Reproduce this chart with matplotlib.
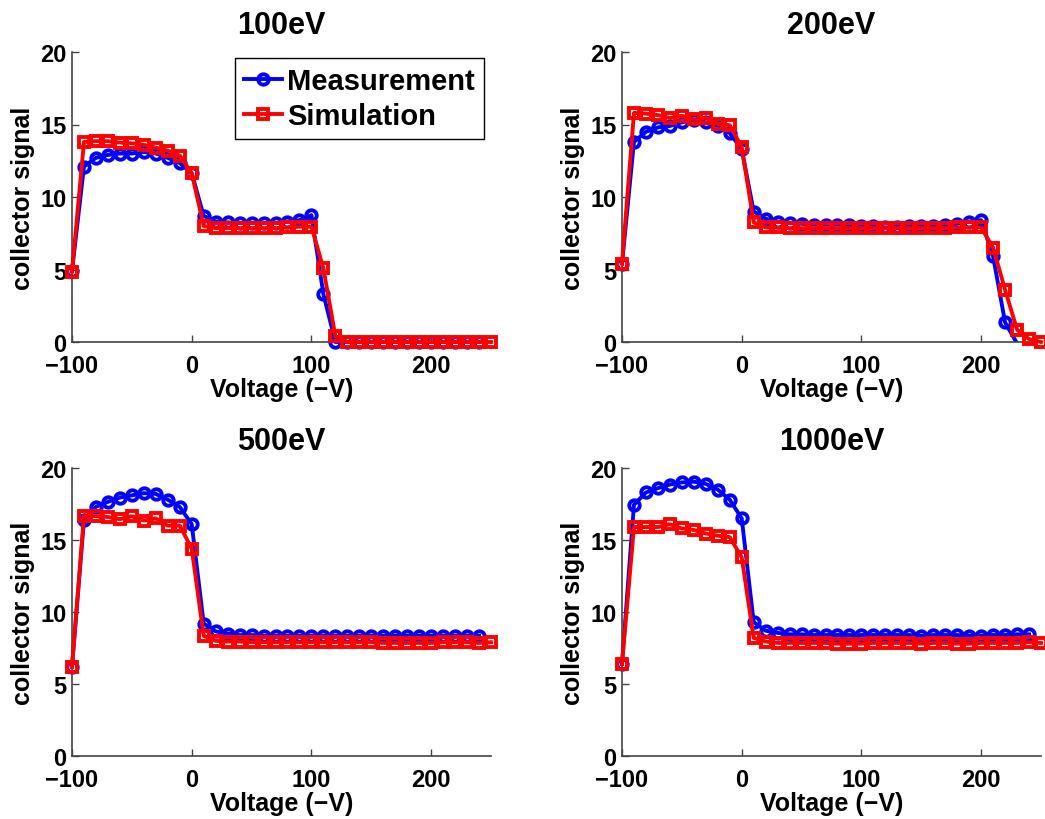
import numpy as np
import matplotlib
matplotlib.use("Agg")
import matplotlib.pyplot as plt
from matplotlib.lines import Line2D

plt.rcParams['font.family'] = ['Liberation Sans', 'DejaVu Sans']
plt.rcParams['font.weight'] = 'bold'

# === Data ===
volt_meas = np.arange(-100, 250, 10)   # -100 .. 240
volt_sim = np.arange(-100, 260, 10)    # -100 .. 250

titles = ["100eV", "200eV", "500eV", "1000eV"]

meas_100 = [4.9, 12.1, 12.7, 12.9, 13.0, 13.0, 13.1, 13.0, 12.7, 12.35, 11.65,
            8.7, 8.3, 8.25, 8.2, 8.2, 8.2, 8.2, 8.3, 8.4, 8.75, 3.3, 0.0,
            0.0, 0.0, 0.0, 0.0, 0.0, 0.0, 0.0, 0.0, 0.0, 0.0, 0.0, 0.0]
sim_100 = [4.85, 13.8, 13.85, 13.85, 13.75, 13.7, 13.6, 13.4, 13.2, 12.85, 11.65,
           8.0, 7.85, 7.85, 7.85, 7.85, 7.85, 7.85, 7.9, 7.95, 7.95, 5.07, 0.4,
           0.0, 0.0, 0.0, 0.0, 0.0, 0.0, 0.0, 0.0, 0.0, 0.0, 0.0, 0.0, 0.0]

meas_200 = [5.4, 13.8, 14.5, 14.8, 14.9, 15.15, 15.3, 15.15, 14.9, 14.4, 13.3,
            9.0, 8.5, 8.3, 8.2, 8.15, 8.1, 8.1, 8.1, 8.05, 8.0, 8.0, 7.9, 7.95,
            8.0, 8.0, 8.0, 8.05, 8.15, 8.3, 8.4, 5.9, 1.35, -0.1, -0.6]
sim_200 = [5.4, 15.8, 15.75, 15.65, 15.45, 15.6, 15.35, 15.45, 15.05, 14.95, 13.45,
           8.25, 7.9, 7.9, 7.85, 7.85, 7.85, 7.85, 7.85, 7.85, 7.85, 7.85, 7.85, 7.85,
           7.85, 7.85, 7.85, 7.85, 7.9, 7.9, 7.9, 6.5, 3.6, 0.85, 0.2, 0.0]

meas_500 = [6.2, 16.4, 17.3, 17.65, 17.95, 18.1, 18.25, 18.2, 17.8, 17.3, 16.1,
            9.2, 8.65, 8.5, 8.4, 8.4, 8.35, 8.35, 8.35, 8.35, 8.35, 8.35, 8.35, 8.35,
            8.35, 8.35, 8.35, 8.35, 8.35, 8.35, 8.35, 8.35, 8.35, 8.35, 8.35]
sim_500 = [6.2, 16.7, 16.65, 16.6, 16.45, 16.65, 16.35, 16.5, 16.0, 16.0, 14.4,
           8.35, 8.0, 7.95, 7.95, 7.9, 7.9, 7.9, 7.9, 7.9, 7.9, 7.9, 7.9, 7.9,
           7.9, 7.9, 7.85, 7.85, 7.85, 7.85, 7.85, 7.9, 7.9, 7.9, 7.85, 7.9]

meas_1000 = [6.4, 17.45, 18.3, 18.6, 18.85, 19.0, 19.05, 18.9, 18.5, 17.8, 16.5,
             9.3, 8.7, 8.55, 8.45, 8.45, 8.4, 8.4, 8.4, 8.4, 8.4, 8.4, 8.4, 8.4,
             8.4, 8.35, 8.4, 8.4, 8.4, 8.35, 8.35, 8.4, 8.4, 8.45, 8.45]
sim_1000 = [6.4, 15.9, 15.9, 15.9, 16.1, 15.8, 15.7, 15.45, 15.3, 15.2, 13.8,
            8.2, 7.95, 7.85, 7.85, 7.85, 7.85, 7.85, 7.8, 7.8, 7.8, 7.85, 7.85, 7.85,
            7.85, 7.8, 7.85, 7.85, 7.8, 7.8, 7.85, 7.85, 7.85, 7.85, 7.9, 7.85]

measurements = [meas_100, meas_200, meas_500, meas_1000]
simulations = [sim_100, sim_200, sim_500, sim_1000]

x_ticks = [-100, 0, 100, 200]
y_ticks = [0, 5, 10, 15, 20]

# --- styling
tick_fs = 17
label_fs = 18
title_fs = 22
legend_fs = 21
lw = 2.8
ms = 7.5
mew = 2.8
spine_col = '#444444'


def draw(ax, x, y, color, marker, z):
    x = np.asarray(x)
    y = np.asarray(y, dtype=float)
    outside = (y < 0) | (y > 20)
    # line is only clipped when part of it leaves the axes
    ax.plot(x, y, color=color, lw=lw, zorder=z, clip_on=bool(outside.any()))
    ax.plot(x[~outside], y[~outside], ls='none', marker=marker, ms=ms,
            mew=mew, mfc='none', mec=color, zorder=z + 0.1, clip_on=False)


fig = plt.figure(figsize=(10.45, 8.2), dpi=100)
W, H = 1045, 820
positions = [
    (72, 53, 343), (622, 53, 343),
    (72, 469, 757), (622, 469, 757),
]

axes = []
for (left, top, bottom) in positions:
    ax = fig.add_axes([left / W, (H - bottom) / H, 419 / W, (bottom - top) / H])
    axes.append(ax)

for ax, title, meas, sim in zip(axes, titles, measurements, simulations):
    draw(ax, volt_meas, meas, 'blue', 'o', 2)
    draw(ax, volt_sim, sim, 'red', 's', 3)

    ax.set_xlim(-100, 250)
    ax.set_ylim(0, 20)
    ax.set_xticks(x_ticks)
    ax.set_yticks(y_ticks)
    ax.tick_params(direction='in', length=5, width=1, color=spine_col,
                   labelsize=tick_fs)
    ax.tick_params(axis='x', pad=8.5)
    ax.tick_params(axis='y', pad=4)
    for lab in ax.get_xticklabels() + ax.get_yticklabels():
        lab.set_fontweight('bold')
    for side in ['top', 'right']:
        ax.spines[side].set_visible(False)
    for side in ['left', 'bottom']:
        ax.spines[side].set_color(spine_col)
        ax.spines[side].set_linewidth(1.2)

    ax.set_title(title, fontsize=title_fs, fontweight='bold', pad=14)
    ax.set_xlabel("Voltage (\u2212V)", fontsize=label_fs, fontweight='bold', labelpad=0)
    ax.set_ylabel("collector signal", fontsize=label_fs, fontweight='bold', labelpad=4)

handles = [
    Line2D([], [], color='blue', lw=lw, marker='o', ms=ms, mew=mew, mfc='none'),
    Line2D([], [], color='red', lw=lw, marker='s', ms=ms, mew=mew, mfc='none'),
]
leg = axes[0].legend(handles, ["Measurement", "Simulation"], loc='upper right',
                     bbox_to_anchor=(0.983, 0.979), borderaxespad=0,
                     fancybox=False, framealpha=1, edgecolor='black',
                     prop={'size': legend_fs, 'weight': 'bold'},
                     handlelength=1.3, handletextpad=0.2, labelspacing=0.25,
                     borderpad=0.3)
leg.get_frame().set_linewidth(1.0)

fig.savefig("out.png", dpi=100)
